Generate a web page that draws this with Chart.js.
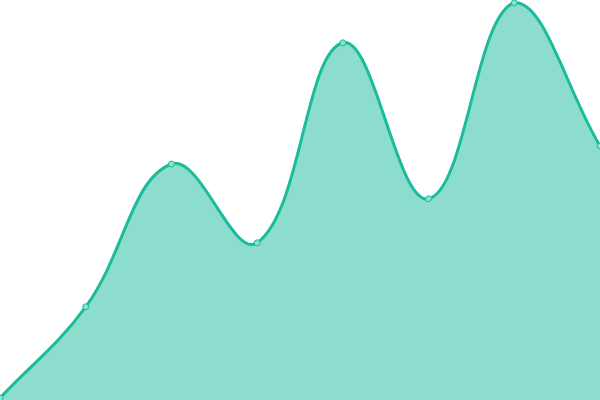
<!DOCTYPE html>
<html>
<head>
<meta charset="utf-8">
<script src="https://cdn.jsdelivr.net/npm/chart.js@4"></script>
<style>
  html, body { margin: 0; padding: 0; background: #fff; }
  #wrap { width: 600px; height: 400px; }
</style>
</head>
<body>
<div id="wrap"><canvas id="areachart"></canvas></div>
<script>
const labels = ['1', '2', '3', '4', '5', '6', '7', '8'];
const values = [0.5, 23.3, 59, 39.3, 89.3, 50.3, 99.3, 63.5];

const ctx = document.getElementById('areachart').getContext('2d');
new Chart(ctx, {
    type: 'line',
    data: {
        labels: labels,
        datasets: [{
            data: values,
            fill: 'origin',
            backgroundColor: 'rgba(26,188,156,0.5)',
            borderColor: '#1abc9c',
            borderWidth: 3,
            tension: 0.4,
            pointRadius: 3,
            pointBackgroundColor: '#8ce0cf',
            pointBorderColor: '#1abc9c',
            pointBorderWidth: 1
        }]
    },
    options: {
        responsive: true,
        maintainAspectRatio: false,
        animation: false,
        layout: { padding: 0, autoPadding: false },
        plugins: { legend: { display: false }, tooltip: { enabled: false } },
        scales: {
            x: { display: false },
            y: { display: false, min: 0, max: 100 }
        }
    }
});
</script>
</body>
</html>
